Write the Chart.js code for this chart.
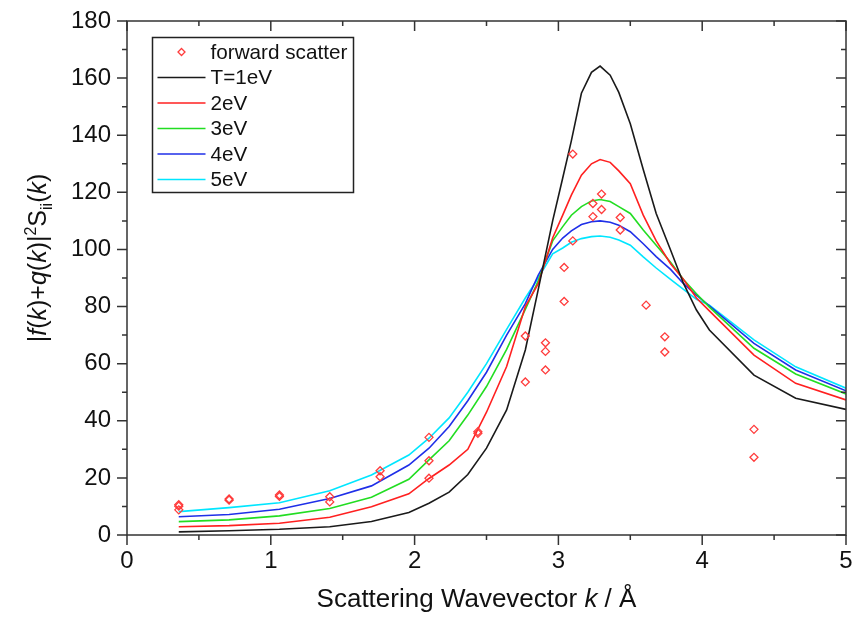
<!DOCTYPE html>
<html>
<head>
<meta charset="utf-8">
<script src="https://cdn.jsdelivr.net/npm/chart.js@4.4.0/dist/chart.umd.min.js"></script>
<style>
  body { margin: 0; background: #fff; }
  #wrap { width: 853px; height: 618px; }
</style>
</head>
<body>
<div id="wrap"><canvas id="chart"></canvas></div>
<script>
// k grid of the model curves (1/Å)
const kGrid = [0.36, 0.71, 1.06, 1.41, 1.70, 1.96, 2.10, 2.24, 2.37, 2.50, 2.64, 2.77, 2.86, 2.96, 3.03, 3.09,
  3.16, 3.23, 3.29, 3.36, 3.42, 3.50, 3.59, 3.68, 3.78, 3.87, 3.96, 4.05, 4.36, 4.65, 5.00];

const t1eV = [1.1, 1.5, 2.0, 2.9, 4.7, 7.9, 11.1, 15.0, 21.2, 30.4, 43.8, 64.8, 86, 110, 125, 138,
  154.7, 162, 164.2, 161, 155, 144, 128, 112.6, 99.8, 88.1, 78.8, 71.8, 56.0, 47.9, 44.0];
const t2eV = [2.9, 3.3, 4.1, 6.2, 9.9, 14.4, 19.8, 24.5, 30, 43, 59, 80, 88, 104, 112, 119,
  126, 130, 131.5, 130.5, 127.5, 123, 112, 103, 95, 89.5, 83, 78.5, 63, 53.1, 47.3];
const t3eV = [4.7, 5.3, 6.7, 9.3, 13.2, 19.5, 26.3, 33, 42, 52, 65, 79, 89, 103, 108, 112,
  115, 117, 117.5, 116.8, 115, 112.6, 106.8, 101.5, 95.5, 89.5, 84.5, 79.8, 65.4, 56.4, 49.4];
const t4eV = [6.4, 7.2, 9.0, 12.8, 17.2, 24.5, 30.4, 38, 47, 57, 70, 81, 91, 100, 104, 106.5,
  108.7, 109.7, 110, 109.5, 108.5, 106.2, 102, 97.5, 93, 88, 84, 80.2, 67.1, 57.8, 50.5];
const t5eV = [8.2, 9.6, 11.3, 15.5, 21.0, 28.0, 33.9, 41, 50, 60, 72, 83, 90, 98.5, 100.5, 102.5,
  103.8, 104.5, 104.7, 104.3, 103.3, 101.5, 97.4, 93.5, 89.5, 86, 82.5, 80.5, 68.3, 58.9, 51.4];

// forward scatter points
const scatterK = [0.36, 0.36, 0.36, 0.71, 0.71, 1.06, 1.06, 1.41, 1.41, 1.76, 1.76, 2.10, 2.10, 2.10,
  2.44, 2.44, 2.77, 2.77, 2.91, 2.91, 2.91, 3.04, 3.04, 3.10, 3.10, 3.24, 3.24, 3.30, 3.30,
  3.43, 3.43, 3.61, 3.74, 3.74, 4.36, 4.36];
const scatterVal = [10.6, 10.1, 8.8, 12.6, 12.2, 14.0, 13.5, 13.4, 11.6, 22.5, 20.4, 34.2, 26.0, 19.9,
  36.2, 35.6, 69.7, 53.6, 67.3, 64.3, 57.8, 93.7, 81.8, 133.4, 103.0, 116.1, 111.5, 119.4, 114.0,
  111.2, 106.8, 80.5, 69.4, 64.1, 37.0, 27.2];

const xTicks = [0, 1, 2, 3, 4, 5];
const yTicks = [0, 20, 40, 60, 80, 100, 120, 140, 160, 180];

const FAMILY = '"Liberation Sans", Arial, sans-serif';

function pts(xs, ys) {
  return xs.map((x, i) => ({ x: x, y: ys[i] }));
}

function curve(label, values, color) {
  return {
    label: label,
    data: pts(kGrid, values),
    showLine: true,
    borderColor: color,
    borderWidth: 1.6,
    pointRadius: 0,
    tension: 0,
    fill: false
  };
}

const datasets = [
  {
    label: "forward scatter",
    data: pts(scatterK, scatterVal),
    showLine: false,
    pointStyle: "rectRot",
    pointRadius: 4,
    pointBorderWidth: 1.3,
    borderColor: "#ff3b3b",
    backgroundColor: "rgba(0,0,0,0)"
  },
  curve("T=1eV", t1eV, "#1a1a1a"),
  curve("2eV", t2eV, "#ff2020"),
  curve("3eV", t3eV, "#22dd22"),
  curve("4eV", t4eV, "#1f2fe8"),
  curve("5eV", t5eV, "#00e6ff")
];

// draws a string made of plain / italic / sup / sub parts, centred on x
function richText(ctx, parts, x, y, size) {
  const fontOf = p => (p.it ? "italic " : "") + ((p.sup || p.sub) ? Math.round(size * 0.62) : size) + "px " + FAMILY;
  let total = 0;
  parts.forEach(p => { ctx.font = fontOf(p); p.w = ctx.measureText(p.t).width; total += p.w; });
  let cx = x - total / 2;
  parts.forEach(p => {
    ctx.font = fontOf(p);
    const dy = p.sup ? -size * 0.4 : p.sub ? size * 0.25 : 0;
    ctx.fillText(p.t, cx, y + dy);
    cx += p.w;
  });
}

const framePlugin = {
  id: "frame",
  afterDraw(chart) {
    const { ctx, chartArea: a, scales: { x, y } } = chart;
    ctx.save();

    // box
    ctx.strokeStyle = "#333";
    ctx.lineWidth = 1.5;
    ctx.strokeRect(a.left, a.top, a.right - a.left, a.bottom - a.top);

    // major + minor ticks: outward on left/bottom, inward on right/top
    ctx.beginPath();
    for (let i = 0; i < yTicks.length; i++) {
      const vals = [yTicks[i]];
      if (i < yTicks.length - 1) vals.push((yTicks[i] + yTicks[i + 1]) / 2);
      vals.forEach((v, j) => {
        const p = y.getPixelForValue(v);
        const len = j === 0 ? 10 : 5;
        ctx.moveTo(a.left - len, p); ctx.lineTo(a.left, p);
        ctx.moveTo(a.right, p); ctx.lineTo(a.right - len, p);
      });
    }
    for (let i = 0; i < xTicks.length; i++) {
      const vals = [xTicks[i]];
      if (i < xTicks.length - 1) vals.push((xTicks[i] + xTicks[i + 1]) / 2);
      vals.forEach((v, j) => {
        const p = x.getPixelForValue(v);
        const len = j === 0 ? 10 : 5;
        ctx.moveTo(p, a.bottom); ctx.lineTo(p, a.bottom + len);
        ctx.moveTo(p, a.top); ctx.lineTo(p, a.top + len);
      });
    }
    ctx.stroke();

    // legend
    const lx = a.left + 25.5, ly = a.top + 16.5, lw = 201, lh = 155, row = 25.5;
    ctx.fillStyle = "#fff";
    ctx.fillRect(lx, ly, lw, lh);
    ctx.strokeStyle = "#222";
    ctx.lineWidth = 1.5;
    ctx.strokeRect(lx, ly, lw, lh);
    ctx.textAlign = "left";
    ctx.textBaseline = "middle";
    ctx.font = "20.7px " + FAMILY;
    chart.data.datasets.forEach((ds, i) => {
      const cy = ly + 14.5 + i * row;
      if (ds.showLine) {
        ctx.strokeStyle = ds.borderColor;
        ctx.lineWidth = 1.6;
        ctx.beginPath();
        ctx.moveTo(lx + 5, cy);
        ctx.lineTo(lx + 53, cy);
        ctx.stroke();
      } else {
        ctx.strokeStyle = ds.borderColor;
        ctx.lineWidth = 1.3;
        ctx.beginPath();
        ctx.moveTo(lx + 29, cy - 3.5);
        ctx.lineTo(lx + 32.5, cy);
        ctx.lineTo(lx + 29, cy + 3.5);
        ctx.lineTo(lx + 25.5, cy);
        ctx.closePath();
        ctx.stroke();
      }
      ctx.fillStyle = "#111";
      ctx.fillText(ds.label, lx + 58, cy + 1);
    });

    // axis titles
    ctx.fillStyle = "#111";
    ctx.textBaseline = "alphabetic";
    ctx.textAlign = "left";
    richText(ctx, [
      { t: "Scattering Wavevector " }, { t: "k", it: true }, { t: " / Å" }
    ], (a.left + a.right) / 2 - 10, 607, 26);

    ctx.save();
    ctx.translate(46, 258);
    ctx.rotate(-Math.PI / 2);
    richText(ctx, [
      { t: "|" }, { t: "f", it: true }, { t: "(" }, { t: "k", it: true }, { t: ")+" },
      { t: "q", it: true }, { t: "(" }, { t: "k", it: true }, { t: ")|" },
      { t: "2", sup: true }, { t: "S" }, { t: "ii", sub: true },
      { t: "(" }, { t: "k", it: true }, { t: ")" }
    ], 0, 0, 25);
    ctx.restore();

    ctx.restore();
  }
};

const tickFont = { family: FAMILY, size: 24 };

new Chart(document.getElementById("chart"), {
  type: "scatter",
  data: { datasets: datasets },
  options: {
    responsive: true,
    maintainAspectRatio: false,
    animation: false,
    layout: { padding: { left: 0, right: 7, top: 21, bottom: 0 } },
    plugins: { legend: { display: false }, tooltip: { enabled: false } },
    scales: {
      x: {
        type: "linear",
        min: 0,
        max: 5,
        afterFit: s => { s.height = 83; s.paddingLeft = 0; s.paddingRight = 0; },
        afterBuildTicks: s => { s.ticks = xTicks.map(v => ({ value: v })); },
        grid: { display: false, drawTicks: false },
        border: { display: false },
        ticks: { font: tickFont, color: "#111", padding: 12, maxRotation: 0 }
      },
      y: {
        type: "linear",
        min: 0,
        max: 180,
        afterFit: s => { s.width = 127; s.paddingTop = 0; s.paddingBottom = 0; },
        afterBuildTicks: s => { s.ticks = yTicks.map(v => ({ value: v })); },
        grid: { display: false, drawTicks: false },
        border: { display: false },
        ticks: { font: tickFont, color: "#111", padding: 16 }
      }
    }
  },
  plugins: [framePlugin]
});
</script>
</body>
</html>
